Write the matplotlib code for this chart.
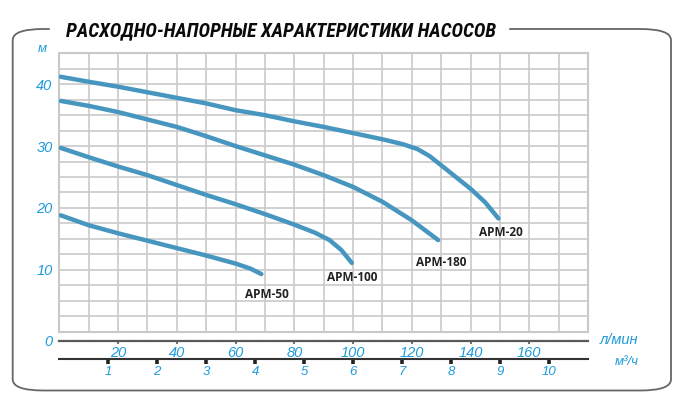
import numpy as np
import matplotlib
matplotlib.use("Agg")
import matplotlib.pyplot as plt
from matplotlib.patches import FancyBboxPatch
from matplotlib import font_manager

# ---------------- data ----------------
title = "РАСХОДНО-НАПОРНЫЕ ХАРАКТЕРИСТИКИ НАСОСОВ"
y_unit = "м"
x_unit_lpm = "л/мин"
x_unit_m3h = "м³/ч"

apm20_q = [0.5, 10, 20, 30, 40, 50, 60, 70, 80, 90, 100, 110, 117, 122, 126, 130, 135, 140, 145, 149.5]
apm20_h = [41.2, 40.4, 39.6, 38.7, 37.8, 36.9, 35.8, 35.0, 34.0, 33.1, 32.1, 31.1, 30.3, 29.5, 28.4, 26.9, 25.0, 23.1, 20.9, 18.3]

apm180_q = [0.5, 10, 20, 30, 40, 50, 60, 70, 80, 90, 100, 110, 120, 129]
apm180_h = [37.3, 36.5, 35.5, 34.3, 33.1, 31.6, 30.0, 28.5, 27.0, 25.3, 23.4, 21.0, 18.0, 14.8]

apm100_q = [0.5, 10, 20, 30, 40, 50, 60, 70, 80, 87, 92, 96, 99.6]
apm100_h = [29.7, 28.2, 26.7, 25.3, 23.7, 22.1, 20.6, 19.0, 17.3, 16.0, 14.8, 13.2, 11.1]

apm50_q = [0.5, 10, 20, 30, 40, 50, 60, 65, 68.8]
apm50_h = [18.8, 17.2, 15.9, 14.7, 13.5, 12.3, 11.0, 10.2, 9.3]

series_names = ["APM-20", "APM-180", "APM-100", "APM-50"]

y_ticks = [10, 20, 30, 40]
lpm_ticks = [20, 40, 60, 80, 100, 120, 140, 160]
m3h_ticks = [1, 2, 3, 4, 5, 6, 7, 8, 9, 10]

# ---------------- style ----------------
W, H = 686, 412
DPI = 100
curve_color = "#4796c0"
label_blue = "#1e9bdc"
grid_color = "#c9c9c9"
blue_font = dict(family="Liberation Sans", style="italic")

# choose a condensed bold italic face for the title if one is installed
title_kw = dict(family="Liberation Sans", fontweight="bold", style="italic")
fl = font_manager.fontManager.ttflist
names = {f.name for f in fl}
if "Roboto Condensed" in names:
    title_kw = dict(family="Roboto Condensed", fontweight="bold", style="italic")
elif "Liberation Sans Narrow" in names:
    title_kw = dict(family="Liberation Sans Narrow", fontweight="bold", style="italic")
elif any(f.name == "DejaVu Sans" and f.stretch == "condensed" and f.style in ("oblique", "italic")
         and (f.weight == "bold" or f.weight == 700) for f in fl):
    title_kw = dict(family="DejaVu Sans", fontweight="bold", style="oblique", fontstretch="condensed")

fig = plt.figure(figsize=(W / DPI, H / DPI), dpi=DPI)
fig.patch.set_facecolor("white")

def fx(px):
    return px / W

def fy(py):
    return 1 - py / H

ax_l, ax_r, ax_t, ax_b = 59.3, 588.0, 53.3, 331.6
ax = fig.add_axes([fx(ax_l), fy(ax_b), fx(ax_r) - fx(ax_l), fy(ax_t) - fy(ax_b)])
ax.set_xlim(0, 180)
ax.set_ylim(0, 45)

# grid
ax.set_xticks(np.arange(0, 181, 10))
ax.set_xticklabels([])
ax.set_yticks(y_ticks)
ax.set_yticks(np.arange(0, 45.01, 2.5), minor=True)
ax.grid(True, which="both", color=grid_color, lw=1.2)
ax.set_axisbelow(True)
ax.tick_params(axis="x", length=0)
ax.tick_params(axis="y", which="both", length=0)
ax.tick_params(axis="y", pad=4.8, labelcolor=label_blue, labelsize=10.5)
for lab in ax.get_yticklabels():
    lab.set_fontfamily("Liberation Sans")
    lab.set_fontstyle("italic")
for s in ax.spines.values():
    s.set_color(grid_color)
    s.set_linewidth(1.5)

# curves
curves = [(apm20_q, apm20_h), (apm180_q, apm180_h), (apm100_q, apm100_h), (apm50_q, apm50_h)]
for (q, h) in curves:
    ax.plot(q, h, color=curve_color, lw=3.2, solid_capstyle="round", solid_joinstyle="round", zorder=3)

# curve labels (offset from end of each curve, in points)
label_offsets = [(1.6, -9.8), (2, -16), (0, -10.8), (4, -14.4)]
for (q, h), name, off in zip(curves, series_names, label_offsets):
    ax.annotate(name, xy=(q[-1], h[-1]), xytext=off, textcoords="offset points",
                ha="center", va="center", fontsize=8.5, fontweight="bold",
                family="Open Sans", color="#222222", zorder=4)

# secondary axis: l/min
loc1 = -(341.3 - ax_b) / (ax_b - ax_t)
sec1 = ax.secondary_xaxis(loc1)
sec1.set_xticks(lpm_ticks)
sec1.tick_params(length=2.5, width=1.2, color="#555555", pad=1.2, labelsize=10.5, labelcolor=label_blue)
for lab in sec1.get_xticklabels():
    lab.set_fontfamily("Liberation Sans")
    lab.set_fontstyle("italic")
sp = sec1.spines["bottom"]
sp.set_color("#5a5a5a")
sp.set_linewidth(1.6)
sp.set_linestyle((0, (1.5, 0.8)))

# secondary axis: m3/h
loc2 = -(359.0 - ax_b) / (ax_b - ax_t)
sec2 = ax.secondary_xaxis(loc2, functions=(lambda x: x * 0.06, lambda x: x / 0.06))
sec2.set_xticks(m3h_ticks)
sec2.tick_params(length=3.5, width=2.6, color="#222222", pad=1.5, labelsize=9.5, labelcolor=label_blue)
for lab in sec2.get_xticklabels():
    lab.set_fontfamily("Liberation Sans")
    lab.set_fontstyle("italic")
sp2 = sec2.spines["bottom"]
sp2.set_color("#333333")
sp2.set_linewidth(1.5)

# unit labels and zero
fig.text(fx(42.7), fy(49.3), y_unit, ha="center", va="center", color=label_blue, fontsize=9.5, **blue_font)
fig.text(fx(48.3), fy(341.7), "0", ha="center", va="center", color=label_blue, fontsize=10.5, **blue_font)
fig.text(fx(619), fy(340.5), x_unit_lpm, ha="center", va="center", color=label_blue, fontsize=10.5, **blue_font)
fig.text(fx(626.7), fy(362), x_unit_m3h, ha="center", va="center", color=label_blue, fontsize=9.5, **blue_font)

# rounded frame
bx0, by0, bx1, by1 = 12.7, 29.0, 671.0, 390.5
frame = FancyBboxPatch((fx(bx0), fy(by1)), fx(bx1) - fx(bx0), fy(by0) - fy(by1),
                       boxstyle="round,pad=0,rounding_size=0.045",
                       transform=fig.transFigure, fill=False, ec="#666666", lw=1.3,
                       mutation_aspect=H / W * 1.0)
fig.add_artist(frame)
# white gap behind title
fig.add_artist(plt.Rectangle((fx(50), fy(38)), fx(508) - fx(50), fy(20) - fy(38),
                             transform=fig.transFigure, color="white", zorder=5))

t = fig.text(fx(66), fy(31.3), title, ha="left", va="center", fontsize=14,
             color="#0a0a0a", zorder=6, **title_kw)
fig.canvas.draw()
r = fig.canvas.get_renderer()
w = t.get_window_extent(r).width
t.set_fontsize(min(15.5, 14 * 430.0 / w))

fig.savefig("out.png", dpi=DPI)
